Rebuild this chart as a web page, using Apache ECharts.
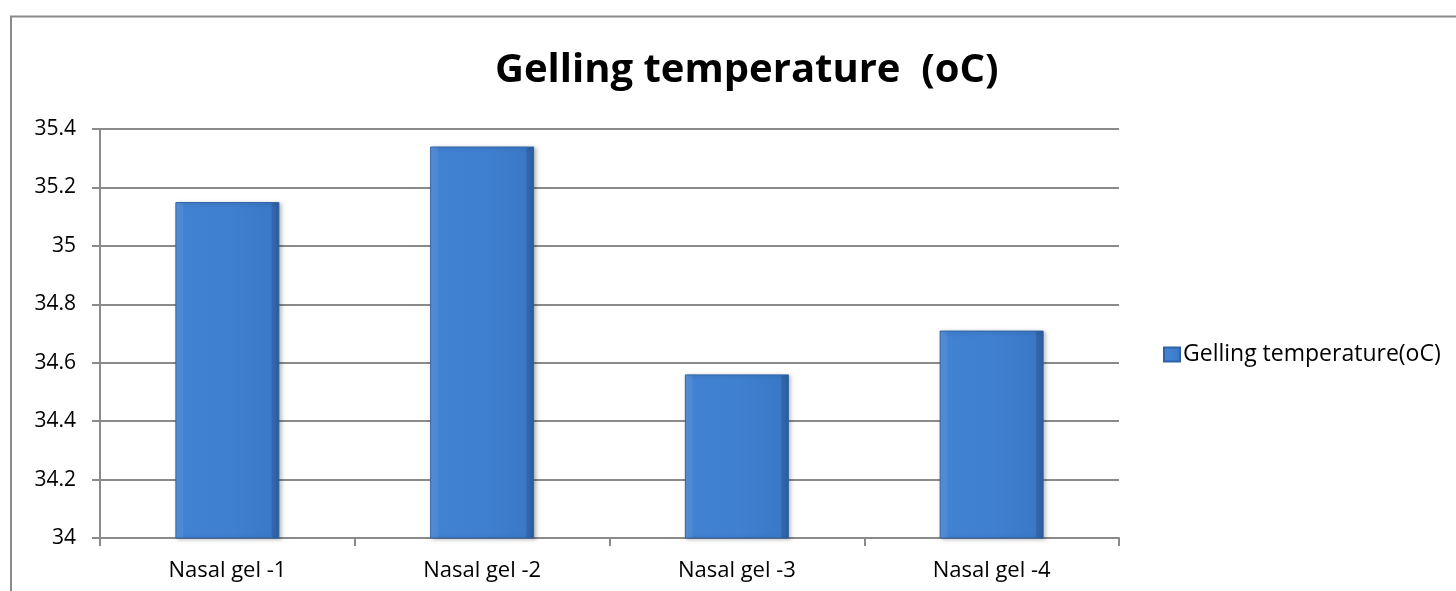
<!DOCTYPE html>
<html>
<head>
<meta charset="utf-8">
<script src="https://cdn.jsdelivr.net/npm/echarts@6/dist/echarts.min.js"></script>
<style>
html,body{margin:0;padding:0;background:#fff;}
#chart{width:1456px;height:591px;}
</style>
</head>
<body>
<div id="chart"></div>
<script>
const categories = ['Nasal gel -1', 'Nasal gel -2', 'Nasal gel -3', 'Nasal gel -4'];
const gellingTemp = [35.15, 35.34, 34.56, 34.71];
const seriesName = 'Gelling temperature(oC)';
const titleText = 'Gelling temperature  (oC)';
const yMin = 34, yMax = 35.4, yInterval = 0.2;

const barFill = new echarts.graphic.LinearGradient(0, 0, 1, 0, [
  {offset: 0, color: '#5a95dc'},
  {offset: 0.07, color: '#4e8ad6'},
  {offset: 0.08, color: '#4282d2'},
  {offset: 0.5, color: '#3f80d0'},
  {offset: 0.92, color: '#3b79c7'},
  {offset: 0.93, color: '#3369b0'},
  {offset: 1, color: '#2c5d9e'}
]);

const chart = echarts.init(document.getElementById('chart'), null, {renderer: 'canvas'});
chart.setOption({
  animation: false,
  backgroundColor: '#ffffff',
  textStyle: {fontFamily: 'Open Sans'},
  graphic: [{
    type: 'rect',
    silent: true,
    shape: {x: 11, y: 16.5, width: 1600, height: 800},
    style: {fill: 'none', stroke: '#8a8a8a', lineWidth: 2}
  }],
  title: {
    text: titleText,
    left: 495,
    top: 51,
    padding: 0,
    textStyle: {fontFamily: 'Open Sans', fontWeight: 'bold', fontSize: 40, color: '#000'}
  },
  legend: {
    left: 1163,
    top: 343,
    padding: 0,
    itemWidth: 16,
    itemHeight: 14,
    itemGap: 4,
    icon: 'rect',
    textStyle: {fontFamily: 'Open Sans', fontSize: 23, color: '#000', padding: [0, 0, 0, -2]},
    data: [seriesName]
  },
  grid: {left: 100, right: 337, top: 129, bottom: 53, containLabel: false},
  xAxis: {
    type: 'category',
    data: categories,
    axisLine: {lineStyle: {color: '#8a8a8a', width: 2}},
    axisTick: {show: true, length: 8, lineStyle: {color: '#8a8a8a', width: 2}},
    axisLabel: {margin: 22, fontFamily: 'Open Sans', fontSize: 22, color: '#000'},
    splitLine: {show: false}
  },
  yAxis: {
    type: 'value',
    min: yMin,
    max: yMax,
    interval: yInterval,
    axisLine: {show: true, lineStyle: {color: '#8a8a8a', width: 2}},
    axisTick: {show: true, length: 8, lineStyle: {color: '#8a8a8a', width: 2}},
    axisLabel: {margin: 24, fontFamily: 'Open Sans', fontSize: 21, color: '#000'},
    splitLine: {show: true, lineStyle: {color: '#8a8a8a', width: 2}}
  },
  series: [{
    name: seriesName,
    type: 'bar',
    data: gellingTemp,
    barWidth: 104,
    itemStyle: {
      color: barFill,
      borderColor: '#2f62a6',
      borderWidth: 1,
      shadowColor: 'rgba(0,0,0,0.25)',
      shadowBlur: 4,
      shadowOffsetX: 2,
      shadowOffsetY: 1
    }
  }]
});
</script>
</body>
</html>
